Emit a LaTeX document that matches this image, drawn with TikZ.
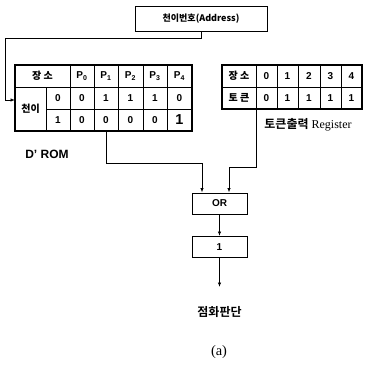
\documentclass[tikz,border=0pt]{standalone}
\usepackage{fontspec}
\setmainfont{Liberation Serif}
\setsansfont{Liberation Sans}
\newfontfamily\kr{Noto Sans CJK KR Bold}
\usetikzlibrary{arrows.meta}

\begin{document}
\begin{tikzpicture}[x=1pt, y=-1pt,
			% Define the styles for the cells, boxes and wires
			cell/.style={draw, line width=0.9pt, inner sep=0pt, minimum height=22pt, font=\sffamily\bfseries},
			box/.style={draw, line width=1pt, inner sep=0pt, font=\sffamily\bfseries},
			wire/.style={line width=0.8pt, -{Latex[length=4.5pt,width=3.5pt]}}
			]
			\useasboundingbox (0,0) rectangle (382,372);

			% address box
			\node (addr) at (201,19) [box, minimum width=132pt, minimum height=25pt] {\kr\small 천이번호(Address)};

			% D' ROM table
			\node (dhd) at (42.5,76) [cell, minimum width=55pt] {\kr 장 소};
			\node (dp0) at (82,76) [cell, minimum width=24pt] {P\textsubscript{0}};
			\node (dp1) at (106,76) [cell, minimum width=24pt] {P\textsubscript{1}};
			\node (dp2) at (130.5,76) [cell, minimum width=25pt] {P\textsubscript{2}};
			\node (dp3) at (155,76) [cell, minimum width=24pt] {P\textsubscript{3}};
			\node (dp4) at (179.5,76) [cell, minimum width=25pt] {P\textsubscript{4}};
			\node (dlb) at (30.5,109) [cell, minimum width=31pt, minimum height=44pt] {\kr 천이};
			\node (dr0) at (58,98) [cell, minimum width=24pt] {0};
			\node (dr1) at (58,120) [cell, minimum width=24pt] {1};
			\node (d00) at (82,98) [cell, minimum width=24pt] {0};
			\node (d01) at (106,98) [cell, minimum width=24pt] {1};
			\node (d02) at (130.5,98) [cell, minimum width=25pt] {1};
			\node (d03) at (155,98) [cell, minimum width=24pt] {1};
			\node (d04) at (179.5,98) [cell, minimum width=25pt] {0};
			\node (d10) at (82,120) [cell, minimum width=24pt] {0};
			\node (d11) at (106,120) [cell, minimum width=24pt] {0};
			\node (d12) at (130.5,120) [cell, minimum width=25pt] {0};
			\node (d13) at (155,120) [cell, minimum width=24pt] {0};
			\node (d14) at (179.5,120) [cell, minimum width=25pt] {\Large 1};
			\node (drom) at (103.5,98) [draw, line width=1.2pt, minimum width=177pt, minimum height=66pt] {};
			\node (dname) at (47,154) [font=\sffamily\bfseries\large] {D' ROM};

			% token register table
			\node (rhd) at (239,76) [cell, minimum width=34pt] {\kr 장 소};
			\node (r0) at (266.5,76) [cell, minimum width=21pt] {0};
			\node (r1) at (287.5,76) [cell, minimum width=21pt] {1};
			\node (r2) at (309,76) [cell, minimum width=22pt] {2};
			\node (r3) at (330.5,76) [cell, minimum width=21pt] {3};
			\node (r4) at (351.5,76) [cell, minimum width=21pt] {4};
			\node (rlb) at (239,98) [cell, minimum width=34pt] {\kr 토 큰};
			\node (t0) at (266.5,98) [cell, minimum width=21pt] {0};
			\node (t1) at (287.5,98) [cell, minimum width=21pt] {1};
			\node (t2) at (309,98) [cell, minimum width=22pt] {1};
			\node (t3) at (330.5,98) [cell, minimum width=21pt] {1};
			\node (t4) at (351.5,98) [cell, minimum width=21pt] {1};
			\node (reg) at (292,87) [draw, line width=1.2pt, minimum width=140pt, minimum height=44pt] {};
			\node (rname) at (308,125) [font=\large] {{\kr 토큰출력} Register};

			% OR and firing
			\node (or) at (219.5,203.5) [box, minimum width=55pt, minimum height=21pt] {OR};
			\node (one) at (219.5,247) [box, minimum width=55pt, minimum height=21pt] {1};
			\coordinate (fireout) at (219.5,287);
			\node (fire) at (219.5,312) [font=\large] {\kr 점화판단};
			\node (cap) at (219,352) [font=\Large] {(a)};

			% wires
			\coordinate (abend) at (5,38);
			\coordinate (dromin) at (15,100);
			\coordinate (lbend) at (202,163);
			\coordinate (rbend) at (229,167);
			\draw[wire] (addr.south) |- (abend) |- (dromin);
			\draw[wire] (d11.south) |- (lbend) -- (lbend |- or.north);
			\draw[wire] (rlb.south east) |- (rbend) -- (rbend |- or.north);
			\draw[wire] (or) -- (one);
			\draw[wire] (one) -- (fireout);

		\end{tikzpicture}
\end{document}
